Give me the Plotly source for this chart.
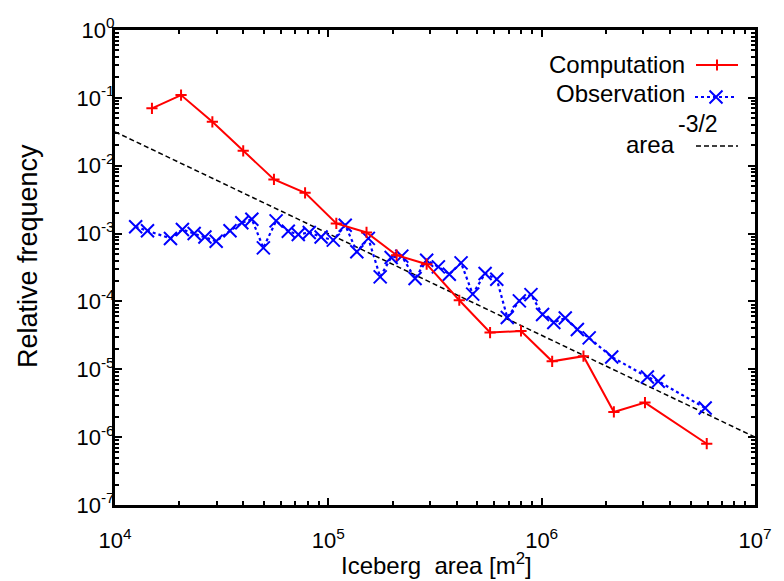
import plotly.graph_objects as go

# ---------------- data ----------------
comp_area = [1.49e4, 2.04e4, 2.86e4, 3.99e4, 5.56e4, 7.78e4, 1.09e5, 1.51e5, 2.09e5,
             2.89e5, 4.11e5, 5.73e5, 8.0e5, 1.12e6, 1.57e6, 2.18e6, 3.05e6, 5.94e6]
comp_freq = [0.070, 0.110, 0.0444, 0.0166, 0.00628, 0.00398, 0.00141, 0.00104, 4.80e-4,
             3.54e-4, 1.04e-4, 3.48e-5, 3.67e-5, 1.31e-5, 1.56e-5, 2.35e-6, 3.23e-6, 8.0e-7]

obs_area = [1.25e4, 1.42e4, 1.82e4, 2.07e4, 2.35e4, 2.64e4, 2.98e4, 3.46e4, 3.93e4, 4.38e4,
            4.96e4, 5.69e4, 6.49e4, 7.23e4, 8.14e4, 9.25e4, 1.055e5, 1.20e5, 1.36e5, 1.54e5,
            1.75e5, 1.97e5, 2.21e5, 2.55e5, 2.89e5, 3.28e5, 3.69e5, 4.19e5, 4.75e5, 5.43e5,
            6.16e5, 6.90e5, 7.86e5, 8.91e5, 1.01e6, 1.14e6, 1.29e6, 1.47e6, 1.67e6, 2.13e6,
            3.13e6, 3.52e6, 5.84e6]
obs_freq = [1.26e-3, 1.10e-3, 8.47e-4, 1.15e-3, 1.00e-3, 8.9e-4, 7.7e-4, 1.10e-3, 1.44e-3, 1.63e-3,
            6.15e-4, 1.54e-3, 1.08e-3, 9.7e-4, 1.04e-3, 8.9e-4, 8.0e-4, 1.33e-3, 5.4e-4, 8.5e-4,
            2.30e-4, 4.44e-4, 4.65e-4, 2.18e-4, 4.05e-4, 3.23e-4, 2.52e-4, 3.70e-4, 1.28e-4, 2.58e-4,
            2.12e-4, 5.8e-5, 1.02e-4, 1.26e-4, 6.4e-5, 4.9e-5, 5.7e-5, 3.85e-5, 2.90e-5, 1.52e-5,
            7.7e-6, 6.65e-6, 2.69e-6]

ref_area = [1e4, 1e7]
ref_freq = [3.16e-2, 1.0e-6]

x_exponents = [4, 5, 6, 7]
y_exponents = [0, -1, -2, -3, -4, -5, -6, -7]

FONT = "Liberation Sans, Arial, Helvetica, sans-serif"
RED = "#ff0000"
BLUE = "#0000ff"


def tick_text(e):
    return "10<sup>%d</sup>" % e


x_tickvals = [10.0 ** e for e in x_exponents]
y_tickvals = [10.0 ** e for e in y_exponents]
x_minor = [m * 10.0 ** e for e in x_exponents[:-1] for m in range(2, 10)]
y_minor = [m * 10.0 ** e for e in y_exponents[1:] for m in range(2, 10)]

fig = go.Figure()

fig.add_trace(go.Scatter(
    x=ref_area, y=ref_freq, mode="lines", name="area<sup>-3/2</sup>",
    line=dict(color="black", width=1.5, dash="5px,3px"), showlegend=False))

fig.add_trace(go.Scatter(
    x=obs_area, y=obs_freq, mode="lines+markers", name="Observation",
    line=dict(color=BLUE, width=2.2, dash="dot"),
    marker=dict(symbol="x-thin", size=13, line=dict(color=BLUE, width=2)),
    showlegend=False))

fig.add_trace(go.Scatter(
    x=comp_area, y=comp_freq, mode="lines+markers", name="Computation",
    line=dict(color=RED, width=2),
    marker=dict(symbol="cross-thin", size=8, line=dict(color=RED, width=2)),
    showlegend=False))

axis_common = dict(
    type="log", showline=True, linewidth=3, linecolor="black", mirror="allticks",
    ticks="inside", ticklen=7, tickwidth=2, tickcolor="black",
    showgrid=False, zeroline=False, tickmode="array",
    tickfont=dict(family=FONT, size=22, color="black"),
)

fig.update_xaxes(
    **axis_common, range=[4, 7],
    tickvals=x_tickvals, ticktext=[tick_text(e) for e in x_exponents],
    ticklabelstandoff=14,
    minor=dict(ticks="inside", ticklen=4, tickwidth=2, tickcolor="black",
               tickmode="array", tickvals=x_minor, showgrid=False),
)
fig.update_yaxes(
    **axis_common, range=[-7, 0],
    tickvals=y_tickvals, ticktext=[tick_text(e) for e in y_exponents],
    ticklabelstandoff=-7,
    minor=dict(ticks="inside", ticklen=4, tickwidth=2, tickcolor="black",
               tickmode="array", tickvals=y_minor, showgrid=False),
)

# ---------------- legend (gnuplot style: text then sample) ----------------
W, H, L, T = 640.0, 475.0, 115.0, 30.0


def px(xp):
    return (xp - L) / W


def py(yp):
    return (T + H - yp) / H


annotations = [
    dict(text="Computation", x=px(687), y=py(64), xanchor="right", yanchor="middle",
         font=dict(size=24)),
    dict(text="Observation", x=px(687), y=py(93), xanchor="right", yanchor="middle",
         font=dict(size=24)),
    dict(text="area", x=px(677), y=py(144), xanchor="right", yanchor="middle",
         font=dict(size=24)),
    dict(text="-3/2", x=px(676), y=py(124), xanchor="left", yanchor="middle",
         font=dict(size=23)),
    dict(text="Relative frequency", x=px(28), y=py(256), xanchor="center", yanchor="middle",
         textangle=-90, font=dict(size=27)),
    dict(text="Iceberg  area [m<sup>2</sup>]", x=px(436), y=py(564), xanchor="center",
         yanchor="middle", font=dict(size=24)),
]
for a in annotations:
    a.update(xref="paper", yref="paper", showarrow=False)
    a["font"].update(family=FONT, color="black")

shapes = [
    dict(type="line", x0=px(696), x1=px(738), y0=py(65), y1=py(65),
         line=dict(color=RED, width=2)),
    dict(type="path", xsizemode="pixel", ysizemode="pixel", xanchor=px(717), yanchor=py(65),
         path="M-5.5,0 H5.5 M0,-5.5 V5.5", line=dict(color=RED, width=2)),
    dict(type="line", x0=px(695), x1=px(736), y0=py(97), y1=py(97),
         line=dict(color=BLUE, width=2.2, dash="dot")),
    dict(type="path", xsizemode="pixel", ysizemode="pixel", xanchor=px(716), yanchor=py(97),
         path="M-6.5,-6.5 L6.5,6.5 M-6.5,6.5 L6.5,-6.5", line=dict(color=BLUE, width=2)),
    dict(type="line", x0=px(696), x1=px(738), y0=py(146), y1=py(146),
         line=dict(color="black", width=1.5, dash="5px,3px")),
]
for s in shapes:
    s.update(xref="paper", yref="paper")

fig.update_layout(
    width=784, height=581, autosize=False,
    margin=dict(l=115, r=29, t=30, b=76, autoexpand=False),
    paper_bgcolor="white", plot_bgcolor="white",
    font=dict(family=FONT, color="black"),
    showlegend=False,
    annotations=annotations, shapes=shapes,
)

fig.write_html("out.html", config={"displayModeBar": False},
               post_script="document.body.style.margin='0px';document.body.style.overflow='hidden';")
